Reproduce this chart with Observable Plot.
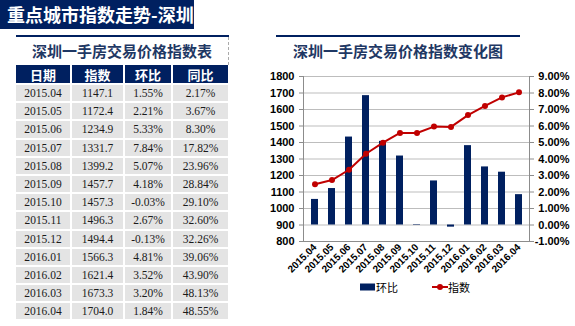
<!DOCTYPE html>
<html><head><meta charset="utf-8">
<script src="https://cdn.jsdelivr.net/npm/d3@7"></script>
<script src="https://cdn.jsdelivr.net/npm/@observablehq/plot@0.6"></script>
<style>
body{margin:0;width:575px;height:326px;background:#fff;position:relative;overflow:hidden;font-family:"Noto Sans CJK SC",sans-serif}
#banner{position:absolute;left:0;top:0;width:194px;height:29px;background:#002060;color:#fff;font-weight:bold;font-size:18px;line-height:29px;padding-left:7px;box-sizing:border-box;white-space:nowrap}
.rule{position:absolute;height:2px;background:#002060}
.ttl{position:absolute;color:#1f3864;font-weight:bold;font-size:15px;line-height:20px;white-space:nowrap;text-align:center}
#tbl{position:absolute;left:16px;top:65px;display:grid;grid-template-columns:54px 51px 46px 55px;column-gap:2px;row-gap:2px;grid-template-rows:18px;grid-auto-rows:16.2px}
#tbl div{background:#e4e4e4;color:#1a1a1a;font-family:"Liberation Serif","Times New Roman",serif;font-size:11.5px;display:flex;align-items:center;justify-content:center}
#tbl div.h{background:#002060;color:#fff;font-family:"Noto Sans CJK SC",sans-serif;font-weight:bold;font-size:13px}
#dash{position:absolute;left:228px;top:37px;height:28px;border-left:1px dashed #aaa}
#chart{position:absolute;left:265px;top:60px}
#legend{position:absolute;top:279px;left:355px;height:16px;font-size:11px;line-height:16px;white-space:nowrap;color:#000}
#legend span{position:absolute;top:0}
</style></head>
<body>
<div id="banner">重点城市指数走势-深圳</div>
<div class="rule" style="left:16px;top:35px;width:213px"></div>
<div class="ttl" style="left:16px;top:41px;width:212px">深圳一手房交易价格指数表</div>
<div id="dash"></div>
<div id="tbl"></div>
<div class="rule" style="left:276px;top:35px;width:244px"></div>
<div class="ttl" style="left:276px;top:41px;width:244px">深圳一手房交易价格指数变化图</div>
<div id="chart"></div>
<div id="legend"></div>
<script>
const headers = ["日期","指数","环比","同比"];
const dates = ["2015.04","2015.05","2015.06","2015.07","2015.08","2015.09","2015.10","2015.11","2015.12","2016.01","2016.02","2016.03","2016.04"];
const indexValues = [1147.1,1172.4,1234.9,1331.7,1399.2,1457.7,1457.3,1496.3,1494.4,1566.3,1621.4,1673.3,1704.0];
const momPct = [1.55,2.21,5.33,7.84,5.07,4.18,-0.03,2.67,-0.13,4.81,3.52,3.20,1.84];
const yoyPct = [2.17,3.67,8.30,17.82,23.96,28.84,29.10,32.60,32.26,39.06,43.90,48.13,48.55];
const leftTicks = [800,900,1000,1100,1200,1300,1400,1500,1600,1700,1800];
const seriesNames = {bar:"环比", line:"指数"};

// table
const tbl = d3.select("#tbl");
headers.forEach(h => tbl.append("div").attr("class","h").text(h));
dates.forEach((d,i) => {
  tbl.append("div").text(d);
  tbl.append("div").text(indexValues[i].toFixed(1));
  tbl.append("div").text(momPct[i].toFixed(2)+"%");
  tbl.append("div").text(yoyPct[i].toFixed(2)+"%");
});

// chart
const navy = "#002060", red = "#c00000";
const data = dates.map((d,i) => ({date:d, idx:indexValues[i], mom:momPct[i]}));
// right axis (环比 %) is mapped onto the left axis scale: 0% ↔ 900, 1% ↔ +100
const toLeft = p => 900 + p*100;
const chart = Plot.plot({
  width:305, height:226, marginTop:16, marginBottom:45, marginLeft:38, marginRight:41,
  style:{fontFamily:"'Liberation Sans', Arial, sans-serif", fontSize:"11px", fontWeight:"bold", color:"#000", background:"transparent"},
  x:{type:"band", domain:dates, paddingInner:0.6, paddingOuter:0.3, label:null},
  y:{domain:[800,1800], label:null},
  marks:[
    Plot.gridY(leftTicks, {stroke:"#bdbdbd", strokeOpacity:1}),
    Plot.frame({anchor:"left", stroke:"#8c8c8c"}),
    Plot.frame({anchor:"right", stroke:"#8c8c8c"}),
    Plot.frame({anchor:"bottom", stroke:"#8c8c8c"}),
    Plot.barY(data, {x:"date", y1:toLeft(0), y2:d => toLeft(d.mom), fill:navy}),
    Plot.lineY(data, {x:"date", y:"idx", stroke:red, strokeWidth:2}),
    Plot.dot(data, {x:"date", y:"idx", fill:red, r:3}),
    Plot.axisY(leftTicks, {anchor:"left", tickSize:4, tickPadding:5, stroke:"#8c8c8c", label:null, tickFormat:d3.format("d")}),
    Plot.axisY(leftTicks, {anchor:"right", tickSize:4, tickPadding:36, textAnchor:"end", stroke:"#8c8c8c", label:null,
      tickFormat:v => ((v-900)/100).toFixed(2)+"%"}),
    Plot.axisX({tickRotate:-45, tickSize:0, tickPadding:4, fontSize:10, label:null})
  ]
});
document.getElementById("chart").append(chart);

// legend
const lg = d3.select("#legend");
const s1 = lg.append("svg").attr("width",130).attr("height",16).style("position","absolute").style("left","0px").style("top","0px");
s1.append("rect").attr("x",5).attr("y",4.5).attr("width",15).attr("height",7).attr("fill",navy);
s1.append("line").attr("x1",77).attr("x2",93).attr("y1",8).attr("y2",8).attr("stroke",red).attr("stroke-width",2);
s1.append("circle").attr("cx",85).attr("cy",8).attr("r",3).attr("fill",red);
lg.append("span").style("left","21px").text(seriesNames.bar);
lg.append("span").style("left","93px").text(seriesNames.line);
</script>
</body></html>
